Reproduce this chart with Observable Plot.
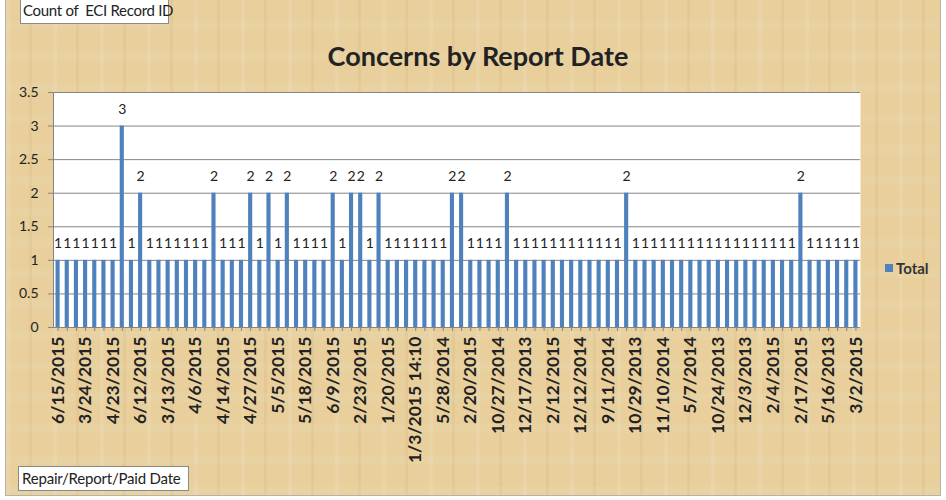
<!DOCTYPE html>
<html>
<head>
<meta charset="utf-8">
<script src="https://cdn.jsdelivr.net/npm/d3@7"></script>
<script src="https://cdn.jsdelivr.net/npm/@observablehq/plot@0.6"></script>
<style>
  html, body { margin: 0; padding: 0; background: #ffffff; }
  #wrap { position: relative; width: 946px; height: 500px; overflow: hidden; font-family: Lato, "Open Sans", sans-serif; }
  #bg { position: absolute; left: 5px; top: -2px; width: 936px; height: 498px; box-sizing: border-box;
        border: 1px solid #b9b2a4;
        background:
          repeating-linear-gradient(90deg, rgba(255,255,255,0.10) 0 4px, rgba(0,0,0,0) 4px 23px, rgba(150,110,50,0.07) 23px 26px, rgba(0,0,0,0) 26px 47px),
          repeating-linear-gradient(0deg, rgba(255,255,255,0.06) 0 9px, rgba(0,0,0,0) 9px 31px),
          #e8cf9c; }
  #chart { position: absolute; left: 0; top: 0; }
  #chart svg { background: transparent !important; }
  .box { position: absolute; background: #fff; border: 1px solid #8a8a8a; color: #222; white-space: nowrap; box-sizing: border-box; }
  #title { position: absolute; left: 0; width: 956px; top: 39px; text-align: center; font-weight: bold; font-size: 27px; color: #222; line-height: normal; }
  #legend { position: absolute; left: 885px; top: 259px; font-size: 15px; font-weight: bold; color: #333; display: flex; align-items: center; }
  #legend span.sw { display: inline-block; width: 8px; height: 8px; background: #4f81bd; margin-right: 3px; }
</style>
</head>
<body>
<div id="wrap">
  <div id="bg"></div>
  <div id="chart"></div>
  <div id="title">Concerns by Report Date</div>
  <div class="box" style="left:20px; top:-3px; width:149px; height:27px; padding:0 0 0 2px; line-height:24px; font-size:15px; letter-spacing:-0.3px;">Count of&nbsp; ECI Record ID</div>
  <div class="box" style="left:18px; top:466px; width:171px; height:25px; padding:0 0 0 3px; line-height:23px; font-size:15px; letter-spacing:-0.2px;">Repair/Report/Paid Date</div>
  <div id="legend"><span class="sw"></span>Total</div>
</div>
<script>
// Counts per report date, in the order they appear on the chart (88 categories)
const counts = [
  1, 1, 1, 1, 1, 1, 1, 3, 1, 2,
  1, 1, 1, 1, 1, 1, 1, 2, 1, 1,
  1, 2, 1, 2, 1, 2, 1, 1, 1, 1,
  2, 1, 2, 2, 1, 2, 1, 1, 1, 1,
  1, 1, 1, 2, 2, 1, 1, 1, 1, 2,
  1, 1, 1, 1, 1, 1, 1, 1, 1, 1,
  1, 1, 2, 1, 1, 1, 1, 1, 1, 1,
  1, 1, 1, 1, 1, 1, 1, 1, 1, 1,
  1, 2, 1, 1, 1, 1, 1, 1
];
// Visible tick labels (every third category)
const tickLabels = [
  "6/15/2015", "3/24/2015", "4/23/2015", "6/12/2015", "3/13/2015", "4/6/2015",
  "4/14/2015", "4/27/2015", "5/5/2015", "5/18/2015", "6/9/2015", "2/23/2015",
  "1/20/2015", "1/3/2015 14:10", "5/28/2014", "2/20/2015", "10/27/2014", "12/17/2013",
  "2/12/2015", "12/12/2014", "9/11/2014", "10/29/2013", "11/10/2014", "5/7/2014",
  "10/24/2013", "12/3/2013", "2/4/2015", "2/17/2015", "5/16/2013", "3/2/2015"
];
const yTicks = [0, 0.5, 1, 1.5, 2, 2.5, 3, 3.5];

const data = counts.map((v, i) => ({i, v}));
const idx = data.map(d => d.i);
const labelIdx = tickLabels.map((_, k) => k * 3);

const chart = Plot.plot({
  width: 946,
  height: 500,
  marginLeft: 53,
  marginRight: 86,
  marginTop: 92,
  marginBottom: 173,
  style: {background: "transparent", fontFamily: "Lato, 'Open Sans', sans-serif", color: "#222"},
  x: {type: "band", domain: idx, paddingInner: 0.55, paddingOuter: 0.275, round: false, axis: null},
  y: {domain: [0, 3.5], axis: null},
  marks: [
    Plot.frame({fill: "white"}),
    Plot.gridY(yTicks, {stroke: "#858585", strokeOpacity: 1, strokeWidth: 1}),
    Plot.barY(data, {x: "i", y: "v", fill: "#4f81bd"}),
    Plot.text(data, {x: "i", y: "v", text: d => String(d.v), dy: -17, fontSize: 14, fill: "#222"}),
    Plot.ruleY([0], {stroke: "#858585"}),
    Plot.frame({anchor: "left", stroke: "#858585"}),
    Plot.axisY({ticks: yTicks, tickFormat: d => String(d), tickSize: 5, tickPadding: 10, fontSize: 14, stroke: "#858585", fill: "#222", label: null}),
    Plot.axisX({ticks: idx, tickFormat: () => "", tickSize: 4, stroke: "#858585", label: null}),
    Plot.axisX({ticks: labelIdx, tickFormat: i => tickLabels[i / 3], tickSize: 0, tickPadding: 9, tickRotate: -90, fontSize: 17.5, fontWeight: "bold", fill: "#222", label: null})
  ]
});
document.getElementById("chart").appendChild(chart);
</script>
</body>
</html>
